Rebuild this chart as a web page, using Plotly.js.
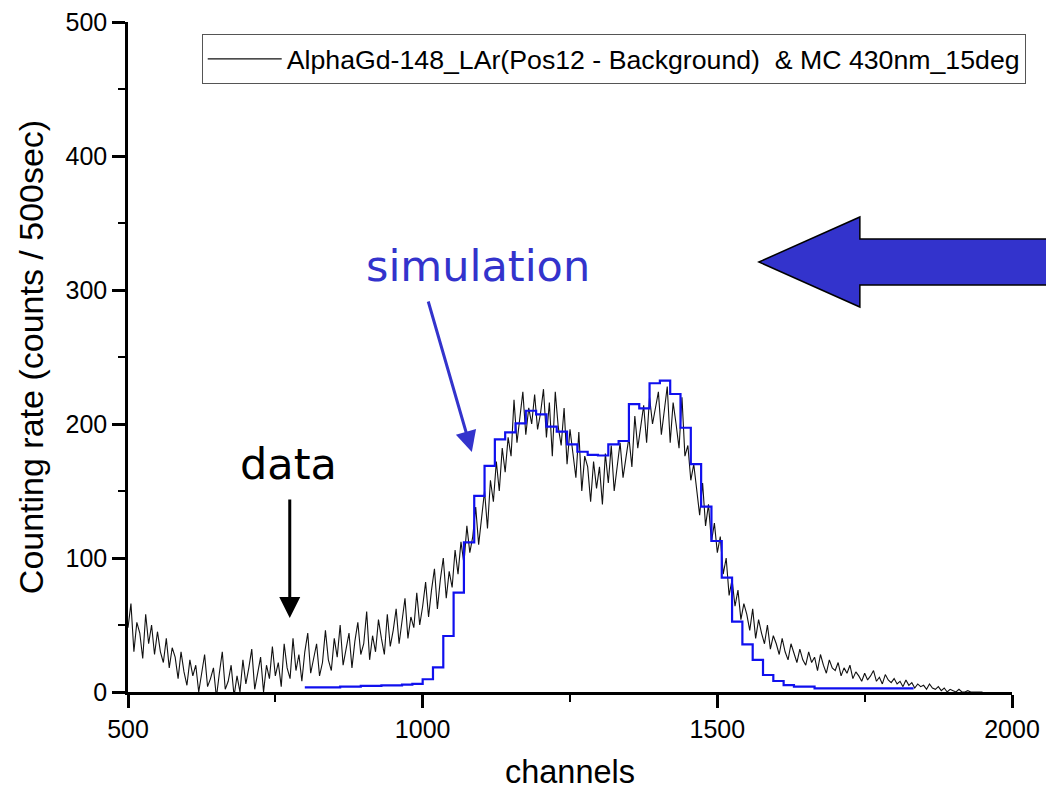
<!DOCTYPE html>
<html>
<head>
<meta charset="utf-8">
<script src="https://cdn.plot.ly/plotly-3.0.1.min.js"></script>
<style>html,body{margin:0;padding:0;background:#fff;}#chart{width:1046px;height:790px;}</style>
</head>
<body>
<div id="chart"></div>
<script>
// Measured spectrum (data), one value every 5 channels starting at channel 500
const dataStart = 500;
const dataStep = 5;
const dataCounts = [
  48, 66, 30, 52, 44, 25, 58, 36, 50, 28,
  45, 30, 22, 40, 18, 33, 26, 10, 30, 15,
  5, 24, 12, 20, 0, 16, 28, 4, 10, 18,
  -4, 14, 30, 2, 8, 20, -3, 12, 0, 24,
  6, 18, 32, 2, 14, 26, 0, 20, 10, 34,
  12, 22, 4, 36, 18, 10, 40, 16, 28, 8,
  30, 44, 14, 26, 36, 12, 22, 46, 24, 16,
  40, 26, 50, 20, 32, 44, 18, 38, 52, 28,
  36, 60, 24, 42, 30, 54, 40, 28, 58, 34,
  46, 62, 36, 52, 70, 40, 56, 48, 74, 50,
  64, 82, 56, 76, 92, 62, 84, 100, 70, 90,
  78, 106, 88, 112, 96, 124, 104, 116, 138, 110,
  132, 150, 122, 158, 142, 172, 150, 182, 164, 190,
  176, 218, 186, 204, 224, 192, 212, 200, 222, 196,
  208, 226, 190, 216, 176, 224, 198, 184, 212, 170,
  196, 178, 160, 194, 150, 176, 168, 142, 172, 152,
  168, 140, 178, 156, 184, 150, 170, 186, 160, 176,
  190, 168, 206, 182, 198, 214, 186, 220, 200, 212,
  224, 192, 210, 228, 186, 216, 200, 182, 220, 176,
  184, 158, 170, 150, 132, 156, 124, 140, 112, 126,
  104, 116, 88, 100, 72, 84, 64, 76, 54, 66,
  58, 46, 62, 40, 54, 44, 36, 50, 32, 42,
  36, 28, 40, 30, 24, 36, 28, 22, 32, 24,
  20, 30, 22, 26, 16, 28, 20, 14, 24, 18,
  16, 22, 12, 18, 14, 20, 10, 15, 12, 8,
  14, 9, 12, 16, 8, 11, 6, 13, 9, 7,
  10, 6, 8, 4, 9, 5, 7, 3, 6, 4,
  5, 2, 6, 3, 2, 4, 1, 3, 0, 2,
  1, 0, 2, 0, 0, 1, 0, 0, 0, 0,
  0
];

// Monte Carlo simulation histogram: bin left edges (channels) and contents
const simEdges = [
  800, 807.5, 825, 842.5, 860, 877.5, 895, 912.5, 930, 947.5,
  965, 982.5, 1000, 1017.5, 1035, 1052.5, 1070, 1087.5, 1105, 1122.5,
  1140, 1157.5, 1175, 1192.5, 1210, 1227.5, 1245, 1262.5, 1280, 1297.5,
  1315, 1332.5, 1350, 1367.5, 1385, 1402.5, 1420, 1437.5, 1455, 1472.5,
  1490, 1507.5, 1525, 1542.5, 1560, 1577.5, 1595, 1612.5, 1630, 1647.5,
  1665, 1833
];
const simCounts = [
  3.5, 3.5, 3.5, 3.5, 4, 4, 4.5, 4.5, 5, 5,
  5.5, 6, 9.5, 18.4, 41.8, 74.1, 111.7, 146.3, 168.7, 188.6,
  193.8, 200.5, 209.9, 207.2, 198.0, 194.3, 184.8, 179.3, 176.9, 176.5,
  184.8, 187.3, 214.9, 211.7, 230.4, 232.3, 222.4, 197.2, 170.1, 138.3,
  112.7, 85.3, 52.5, 35.6, 23.9, 12.7, 8.2, 5.2, 4.0, 4.0,
  2.7, 2.7
];

const legendLabel = 'AlphaGd-148_LAr(Pos12 - Background)  & MC 430nm_15deg';
const xTitle = 'channels';
const yTitle = 'Counting rate (counts / 500sec)';

const FONT = 'Liberation Sans, Arial, Helvetica, sans-serif';
const HAND = 'Comic Sans MS, DejaVu Sans, sans-serif';

const traces = [
  {
    type: 'scatter', mode: 'lines', name: legendLabel,
    x0: dataStart, dx: dataStep, y: dataCounts,
    line: {color: '#111', width: 1.1},
    showlegend: true
  },
  {
    type: 'scatter', mode: 'lines', name: 'MC',
    x: simEdges, y: simCounts,
    line: {color: '#1010ee', width: 2.2, shape: 'hv'},
    showlegend: false
  }
];

const axisCommon = {
  showline: true, linecolor: '#000', linewidth: 2.5,
  ticks: 'outside', ticklen: 13, tickwidth: 2.5, tickcolor: '#000',
  showgrid: false, zeroline: false,
  tickfont: {family: FONT, size: 25, color: '#000'},
  mirror: false
};

const layout = {
  width: 1046, height: 790,
  margin: {l: 128, r: 34, t: 22, b: 98},
  paper_bgcolor: '#fff', plot_bgcolor: '#fff',
  font: {family: FONT, color: '#000'},
  xaxis: Object.assign({}, axisCommon, {
    range: [500, 2000], dtick: 500, tick0: 500,
    minor: {ticks: 'outside', ticklen: 7, tickwidth: 2, tickcolor: '#000', dtick: 250, tick0: 500, showgrid: false},
    title: {text: xTitle, font: {family: FONT, size: 32.5, color: '#000'}, standoff: 20}
  }),
  yaxis: Object.assign({}, axisCommon, {
    range: [0, 500], dtick: 100, tick0: 0,
    minor: {ticks: 'outside', ticklen: 7, tickwidth: 2, tickcolor: '#000', dtick: 50, tick0: 0, showgrid: false},
    title: {text: yTitle, font: {family: FONT, size: 34, color: '#000'}, standoff: 12}
  }),
  showlegend: true,
  legend: {
    x: 0.0834, y: 0.982, xanchor: 'left', yanchor: 'top',
    bgcolor: '#fff', bordercolor: '#555', borderwidth: 1,
    font: {family: FONT, size: 26.7, color: '#000'},
    itemwidth: 74
  },
  shapes: [
    {
      type: 'path', xref: 'paper', yref: 'paper',
      path: 'M 0.7137 0.6418 L 0.8279 0.7090 L 0.8279 0.6761 L 1.05 0.6761 L 1.05 0.6075 L 0.8279 0.6075 L 0.8279 0.5746 Z',
      fillcolor: '#3333cc', line: {color: '#000', width: 1.5}
    }
  ],
  annotations: [
    {
      xref: 'paper', yref: 'paper', x: (478 - 128.3) / 883.7, y: (692 - 266) / 670,
      text: 'simulation', showarrow: false,
      font: {family: HAND, size: 43, color: '#3333cc'},
      xanchor: 'center', yanchor: 'middle'
    },
    {
      xref: 'paper', yref: 'paper', x: (289 - 128.3) / 883.7, y: (692 - 464) / 670,
      text: 'data', showarrow: false,
      font: {family: HAND, size: 43, color: '#000'},
      xanchor: 'center', yanchor: 'middle'
    },
    {
      xref: 'paper', yref: 'paper', x: (290 - 128.3) / 883.7, y: (692 - 618) / 670,
      text: '', showarrow: true, ax: 0, ay: -120,
      arrowhead: 2, arrowsize: 1.4, arrowwidth: 3, arrowcolor: '#000'
    },
    {
      xref: 'paper', yref: 'paper', x: (472 - 128.3) / 883.7, y: (692 - 452) / 670,
      text: '', showarrow: true, ax: -44, ay: -152,
      arrowhead: 2, arrowsize: 1.4, arrowwidth: 3, arrowcolor: '#3333cc'
    }
  ]
};

Plotly.newPlot('chart', traces, layout, {displayModeBar: false, responsive: false});
</script>
</body>
</html>
